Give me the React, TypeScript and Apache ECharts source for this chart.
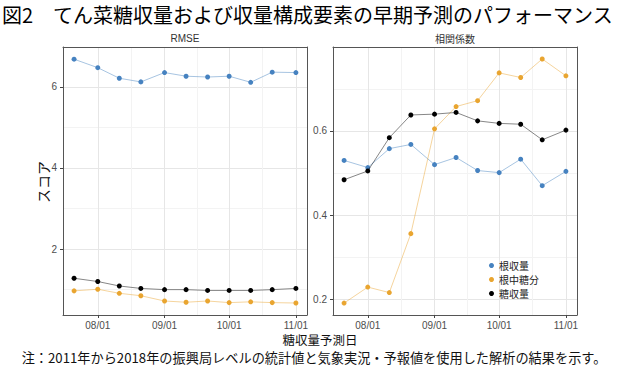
import React, { useEffect, useRef } from "react";
import * as echarts from "echarts";

// Days counted from July 1 (07/01 = 0)
const days = [20, 31, 41, 51, 62, 72, 82, 92, 102, 112, 123];
const tickDays = [31, 62, 92, 123];
const tickLabels = ["08/01", "09/01", "10/01", "11/01"];
const minorDays = [46.5, 77, 107.5];

const seriesNames = ["根収量", "根中糖分", "糖収量"];
const colors = ["#4682C0", "#E9A530", "#000000"];

// RMSE
const rmseRoot = [6.68, 6.47, 6.21, 6.12, 6.35, 6.26, 6.24, 6.26, 6.11, 6.36, 6.35];
const rmseSugarContent = [0.97, 1.01, 0.91, 0.85, 0.72, 0.69, 0.72, 0.68, 0.7, 0.68, 0.67];
const rmseSugarYield = [1.28, 1.2, 1.09, 1.03, 1.0, 1.0, 0.98, 0.98, 0.98, 1.0, 1.03];

// 相関係数
const corRoot = [0.53, 0.513, 0.558, 0.568, 0.52, 0.537, 0.506, 0.501, 0.533, 0.47, 0.504];
const corSugarContent = [0.191, 0.229, 0.216, 0.356, 0.605, 0.658, 0.672, 0.738, 0.727, 0.771, 0.731];
const corSugarYield = [0.484, 0.505, 0.584, 0.638, 0.64, 0.644, 0.624, 0.618, 0.616, 0.579, 0.602];

const leftMajorY = [2, 4, 6];
const leftMinorY = [1, 3, 5];
const rightMajorY = [0.2, 0.4, 0.6];
const rightMinorY = [0.3, 0.5, 0.7];

const JP = "'Noto Sans CJK JP', 'Noto Sans', sans-serif";
const LAT = "'Liberation Sans', Arial, sans-serif";

export default function App() {
  const ref = useRef<HTMLDivElement>(null);
  useEffect(() => {
    if (!ref.current) return;
    const chart = echarts.init(ref.current, undefined, { renderer: "svg" });

    const gridLine = "#e6e6e6";
    const minorLine = "#f3f3f3";
    const border = "#555555";

    const mkX = (gridIndex: number) => [
      {
        type: "value",
        gridIndex,
        min: 14.85,
        max: 128.15,
        position: "bottom",
        axisLine: { show: true, onZero: false, lineStyle: { color: border, width: 1 } },
        axisTick: { show: true, length: 3, customValues: tickDays, lineStyle: { color: "#444" } },
        axisLabel: {
          customValues: tickDays,
          margin: 5,
          fontSize: 10,
          color: "#4d4d4d",
          fontFamily: LAT,
          formatter: (v: number) => tickLabels[tickDays.indexOf(v)] ?? "",
        },
        splitLine: { show: true, lineStyle: { color: gridLine, width: 1 } },
      },
      {
        type: "value",
        gridIndex,
        min: 14.85,
        max: 128.15,
        position: "top",
        axisLine: { show: true, onZero: false, lineStyle: { color: border, width: 1 } },
        axisTick: { show: false, customValues: minorDays },
        axisLabel: { show: false, customValues: minorDays },
        splitLine: { show: true, lineStyle: { color: minorLine, width: 1 } },
      },
    ];

    const mkY = (gridIndex: number, min: number, max: number, major: number[], minor: number[]) => [
      {
        type: "value",
        gridIndex,
        min,
        max,
        position: "left",
        axisLine: { show: true, onZero: false, lineStyle: { color: border, width: 1 } },
        axisTick: { show: true, length: 3, customValues: major, lineStyle: { color: "#444" } },
        axisLabel: {
          customValues: major,
          margin: 6,
          fontSize: 10,
          color: "#4d4d4d",
          fontFamily: LAT,
          formatter: (v: number) => (gridIndex === 0 ? String(v) : v.toFixed(1)),
        },
        splitLine: { show: true, lineStyle: { color: gridLine, width: 1 } },
      },
      {
        type: "value",
        gridIndex,
        min,
        max,
        position: "right",
        axisLine: { show: true, onZero: false, lineStyle: { color: border, width: 1 } },
        axisTick: { show: false, customValues: minor },
        axisLabel: { show: false, customValues: minor },
        splitLine: { show: true, lineStyle: { color: minorLine, width: 1 } },
      },
    ];

    const leftData = [rmseRoot, rmseSugarContent, rmseSugarYield];
    const rightData = [corRoot, corSugarContent, corSugarYield];

    const mkSeries = (data: number[][], xIdx: number, yIdx: number) =>
      data.map((vals, i) => ({
        type: "line",
        name: seriesNames[i],
        xAxisIndex: xIdx,
        yAxisIndex: yIdx,
        data: vals.map((v, j) => [days[j], v]),
        symbol: "circle",
        symbolSize: 5,
        showSymbol: true,
        itemStyle: { color: colors[i] },
        lineStyle: { color: colors[i], width: 0.6, opacity: 0.8 },
        z: 3 + i,
      }));

    chart.setOption({
      animation: false,
      backgroundColor: "#ffffff",
      grid: [
        { left: 63, top: 47, width: 244, height: 268, containLabel: false },
        { left: 333, top: 47, width: 244, height: 268, containLabel: false },
      ],
      xAxis: [...mkX(0), ...mkX(1)],
      yAxis: [
        ...mkY(0, 0.375, 6.98, leftMajorY, leftMinorY),
        ...mkY(1, 0.1627, 0.7995, rightMajorY, rightMinorY),
      ],
      legend: {
        data: seriesNames,
        orient: "vertical",
        left: 489,
        top: 260,
        icon: "circle",
        itemWidth: 5,
        itemHeight: 5,
        itemGap: 3,
        padding: 0,
        textStyle: { fontSize: 10, lineHeight: 11, fontFamily: JP, color: "#222", padding: [0, 0, 0, 0] },
      },
      series: [...mkSeries(leftData, 0, 0), ...mkSeries(rightData, 2, 2)],
      graphic: [
        {
          type: "text",
          x: 2,
          y: 14,
          style: {
            text: "図2　てん菜糖収量および収量構成要素の早期予測のパフォーマンス",
            fontSize: 20,
            fontFamily: JP,
            fill: "#000",
            textVerticalAlign: "middle",
          },
        },
        {
          type: "text",
          x: 185,
          y: 38,
          style: { text: "RMSE", fontSize: 10, fontFamily: LAT, fill: "#333", align: "center", verticalAlign: "middle" },
        },
        {
          type: "text",
          x: 455,
          y: 38,
          style: { text: "相関係数", fontSize: 10, fontFamily: JP, fill: "#333", align: "center", verticalAlign: "middle" },
        },
        {
          type: "text",
          x: 43,
          y: 182,
          rotation: Math.PI / 2,
          style: { text: "スコア", fontSize: 14, fontFamily: JP, fill: "#111", align: "center", verticalAlign: "middle" },
        },
        {
          type: "text",
          x: 320,
          y: 339,
          style: { text: "糖収量予測日", fontSize: 12.5, fontFamily: JP, fill: "#111", align: "center", verticalAlign: "middle" },
        },
        {
          type: "text",
          x: 314,
          y: 357,
          style: {
            text: "注：2011年から2018年の振興局レベルの統計値と気象実況・予報値を使用した解析の結果を示す。",
            fontSize: 13.2,
            fontFamily: JP,
            fill: "#111",
            align: "center",
            verticalAlign: "middle",
          },
        },
      ],
    });
    return () => chart.dispose();
  }, []);
  return <div ref={ref} style={{ position: "fixed", left: 0, top: 0, width: 619, height: 369 }} />;
}
